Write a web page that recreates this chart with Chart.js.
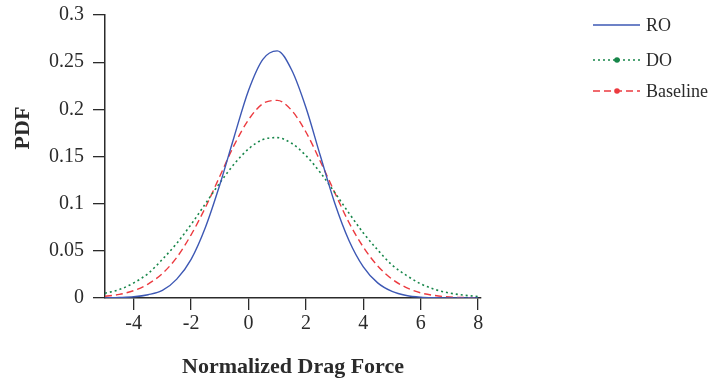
<!DOCTYPE html>
<html>
<head>
<meta charset="utf-8">
<script src="https://cdn.jsdelivr.net/npm/chart.js@4/dist/chart.umd.min.js"></script>
<style>
  html, body { margin: 0; padding: 0; background: #fff; }
  #wrap { width: 711px; height: 382px; position: relative; }
</style>
</head>
<body>
<div id="wrap"><canvas id="pdfChart" width="711" height="382"></canvas></div>
<script>
// x positions (normalized drag force)
var xs = [-5, -4.5, -4, -3.5, -3, -2.5, -2, -1.5, -1, -0.5, 0, 0.5, 1, 1.5, 2, 2.5, 3, 3.5, 4, 4.5, 5, 5.5, 6, 6.5, 7, 7.5, 8];

// PDF values
var ro = [0.0001, 0.0005, 0.0013, 0.0035, 0.008, 0.020, 0.041, 0.075, 0.120, 0.171, 0.220, 0.253, 0.262, 0.242, 0.202, 0.151, 0.101, 0.061, 0.033, 0.016, 0.007, 0.0027, 0.0009, 0.0003, 0.0001, 0, 0];
var dO = [0.005, 0.009, 0.016, 0.026, 0.041, 0.058, 0.078, 0.100, 0.122, 0.142, 0.158, 0.168, 0.170, 0.164, 0.151, 0.133, 0.112, 0.090, 0.069, 0.051, 0.035, 0.024, 0.015, 0.009, 0.0053, 0.003, 0.0016];
var baseline = [0.0017, 0.0038, 0.0078, 0.0148, 0.026, 0.043, 0.067, 0.096, 0.129, 0.162, 0.189, 0.206, 0.2095, 0.199, 0.176, 0.145, 0.112, 0.080, 0.054, 0.034, 0.020, 0.011, 0.0054, 0.0026, 0.0011, 0.0005, 0.0002];

var xTicks = [-4, -2, 0, 2, 4, 6, 8];
var seriesNames = ["RO", "DO", "Baseline"];

var blue = "#3d58b4";
var green = "#17864a";
var red = "#ec3a3f";
var ink = "#2b2b2b";
var serif = "'Liberation Serif', 'DejaVu Serif', serif";

function pts(arr) {
  return xs.map(function (x, i) { return { x: x, y: arr[i] }; });
}

// legend + rotated y title, drawn by hand
var extras = {
  id: "extras",
  afterDraw: function (chart) {
    var ctx = chart.ctx;
    ctx.save();

    // y title
    ctx.translate(23, 128);
    ctx.rotate(-Math.PI / 2);
    ctx.font = "bold 22px " + serif;
    ctx.fillStyle = ink;
    ctx.textAlign = "center";
    ctx.textBaseline = "middle";
    ctx.fillText("PDF", 0, 0);
    ctx.setTransform(1, 0, 0, 1, 0, 0);

    // legend
    var rows = [
      { y: 25, color: blue, dash: [], dot: false },
      { y: 60, color: green, dash: [2, 3], dot: true },
      { y: 91, color: red, dash: [7, 4], dot: true },
    ];
    ctx.font = "18px " + serif;
    ctx.textAlign = "left";
    rows.forEach(function (r, i) {
      ctx.beginPath();
      ctx.setLineDash(r.dash);
      ctx.strokeStyle = r.color;
      ctx.lineWidth = 1.4;
      ctx.moveTo(593, r.y);
      ctx.lineTo(640, r.y);
      ctx.stroke();
      ctx.setLineDash([]);
      if (r.dot) {
        ctx.beginPath();
        ctx.fillStyle = r.color;
        ctx.arc(617, r.y, 2.8, 0, Math.PI * 2);
        ctx.fill();
      }
      ctx.fillStyle = ink;
      ctx.fillText(seriesNames[i], 646, r.y + 1);
    });
    ctx.restore();
  },
};

new Chart(document.getElementById("pdfChart"), {
  type: "line",
  data: {
    datasets: [
      {
        label: seriesNames[0],
        data: pts(ro),
        borderColor: blue,
        borderWidth: 1.4,
      },
      {
        label: seriesNames[1],
        data: pts(dO),
        borderColor: green,
        borderWidth: 1.6,
        borderDash: [2, 3],
      },
      {
        label: seriesNames[2],
        data: pts(baseline),
        borderColor: red,
        borderWidth: 1.4,
        borderDash: [7, 4],
      },
    ],
  },
  options: {
    responsive: false,
    animation: false,
    layout: { padding: { left: 0, right: 230, top: 15, bottom: 0 } },
    elements: {
      point: { radius: 0 },
      line: { cubicInterpolationMode: "monotone", fill: false },
    },
    plugins: {
      legend: { display: false },
      tooltip: { enabled: false },
    },
    scales: {
      x: {
        type: "linear",
        min: -5,
        max: 8.1,
        afterBuildTicks: function (scale) {
          scale.ticks = xTicks.map(function (v) { return { value: v }; });
        },
        afterFit: function (scale) {
          scale.height = 84;
          scale.paddingLeft = 0;
          scale.paddingRight = 0;
        },
        grid: { drawOnChartArea: false, drawTicks: true, tickLength: 12, color: ink, lineWidth: 1.3 },
        border: { color: ink, width: 1.5 },
        ticks: {
          color: ink,
          font: { family: serif, size: 20 },
          padding: 2,
          maxRotation: 0,
        },
        title: {
          display: true,
          text: "Normalized Drag Force",
          color: ink,
          font: { family: serif, size: 22, weight: "bold" },
          padding: { top: 0, bottom: 1 },
        },
      },
      y: {
        min: 0,
        max: 0.3,
        afterFit: function (scale) {
          scale.width = 105;
          scale.paddingTop = 0;
          scale.paddingBottom = 0;
        },
        grid: { drawOnChartArea: false, drawTicks: true, tickLength: 12, color: ink, lineWidth: 1.3 },
        border: { color: ink, width: 1.5 },
        ticks: {
          stepSize: 0.05,
          color: ink,
          font: { family: serif, size: 20 },
          padding: 9,
          callback: function (v) { return String(+v.toFixed(2)); },
        },
      },
    },
  },
  plugins: [extras],
});
</script>
</body>
</html>
